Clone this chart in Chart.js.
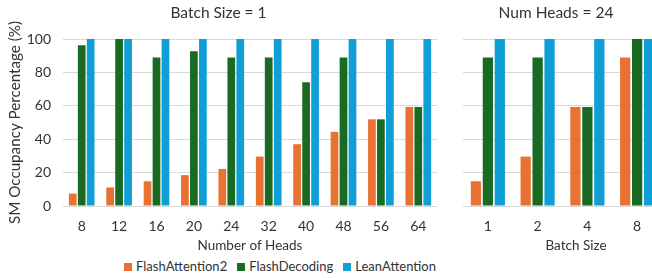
<!DOCTYPE html>
<html>
<head>
<meta charset="utf-8">
<script src="https://cdn.jsdelivr.net/npm/chart.js@4.4.0/dist/chart.umd.min.js"></script>
<style>
    body { margin: 0; width: 652px; height: 278px; overflow: hidden; position: relative; background: #fff; font-family: Lato, sans-serif; }
    #left { position: absolute; left: 0; top: 0; }
    #right { position: absolute; left: 450px; top: 0; }
    #legend { position: absolute; left: 0; top: 258px; width: 560px; text-align: center; font-size: 13px; color: #333; white-space: nowrap; }
    #legend span.sw { display: inline-block; width: 8px; height: 8px; margin: 0 4px 0 0; vertical-align: 0px; }
    #legend span.item { margin: 0 5px; }
</style>
</head>
<body>
<canvas id="left" width="445" height="254"></canvas>
<canvas id="right" width="212" height="254"></canvas>
<div id="legend"></div>
<script>
// data
var headLabels = ['8', '12', '16', '20', '24', '32', '40', '48', '56', '64'];
var fa2Heads = [7.4, 11.1, 14.8, 18.5, 22.2, 29.6, 37.0, 44.4, 51.9, 59.3];
var fdHeads = [96.3, 100, 88.9, 92.6, 88.9, 88.9, 74.1, 88.9, 51.9, 59.3];
var laHeads = [100, 100, 100, 100, 100, 100, 100, 100, 100, 100];

var batchLabels = ['1', '2', '4', '8'];
var fa2Batch = [14.8, 29.6, 59.3, 88.9];
var fdBatch = [88.9, 88.9, 59.3, 100];
var laBatch = [100, 100, 100, 100];

var yTicks = [0, 20, 40, 60, 80, 100];

var seriesNames = ['FlashAttention2', 'FlashDecoding', 'LeanAttention'];
var seriesColors = ['#E97132', '#196B24', '#0F9ED5'];

var textColor = '#333333';
var gridColor = '#d9d9d9';
var fontFamily = 'Lato, sans-serif';

function makeDatasets(a, b, c) {
    return [a, b, c].map(function (vals, i) {
        return {
            label: seriesNames[i],
            data: vals,
            backgroundColor: seriesColors[i],
            borderWidth: 0,
            barPercentage: 0.86,
            categoryPercentage: 0.72
        };
    });
}

function makeOptions(title, xTitle, showY, yWidth) {
    return {
        responsive: false,
        animation: false,
        layout: { padding: { left: 0, right: showY ? 8 : 0, top: 0, bottom: 0 } },
        plugins: {
            legend: { display: false },
            tooltip: { enabled: false },
            title: {
                display: true,
                text: title,
                color: textColor,
                font: { family: fontFamily, size: 15.5, weight: 'normal' },
                padding: { top: 4, bottom: 16.4 }
            }
        },
        scales: {
            x: {
                grid: { display: false, drawTicks: false },
                border: { display: false },
                ticks: { color: textColor, font: { family: fontFamily, size: 14 }, padding: 12 },
                title: {
                    display: true,
                    text: xTitle,
                    color: textColor,
                    font: { family: fontFamily, size: 13.5 },
                    padding: { top: 0, bottom: 0 }
                },
                afterFit: function (scale) { scale.height = 48; }
            },
            y: {
                min: 0,
                max: 100,
                afterBuildTicks: function (scale) {
                    scale.ticks = yTicks.map(function (v) { return { value: v }; });
                },
                grid: { color: gridColor, lineWidth: 1, drawTicks: false },
                border: { display: false },
                ticks: {
                    display: showY,
                    color: textColor,
                    font: { family: fontFamily, size: 14 },
                    padding: 12
                },
                title: {
                    display: showY,
                    text: 'SM Occupancy Percentage (%)',
                    color: textColor,
                    font: { family: fontFamily, size: 15.2 },
                    padding: { top: 6, bottom: 0 }
                },
                afterFit: function (scale) { scale.width = yWidth; }
            }
        }
    };
}

new Chart(document.getElementById('left').getContext('2d'), {
    type: 'bar',
    data: { labels: headLabels, datasets: makeDatasets(fa2Heads, fdHeads, laHeads) },
    options: makeOptions('Batch Size = 1', 'Number of Heads', true, 63)
});

// the reference sets "Batch Size" right of the plot centre, em spaces push it over
new Chart(document.getElementById('right').getContext('2d'), {
    type: 'bar',
    data: { labels: batchLabels, datasets: makeDatasets(fa2Batch, fdBatch, laBatch) },
    options: makeOptions('Num Heads = 24', '\u2003\u2003\u2002Batch Size', false, 13)
});

// legend as html, centred under both panels
var legend = document.getElementById('legend');
seriesNames.forEach(function (name, i) {
    var item = document.createElement('span');
    item.className = 'item';
    var sw = document.createElement('span');
    sw.className = 'sw';
    sw.style.background = seriesColors[i];
    item.appendChild(sw);
    item.appendChild(document.createTextNode(name));
    legend.appendChild(item);
});
</script>
</body>
</html>
